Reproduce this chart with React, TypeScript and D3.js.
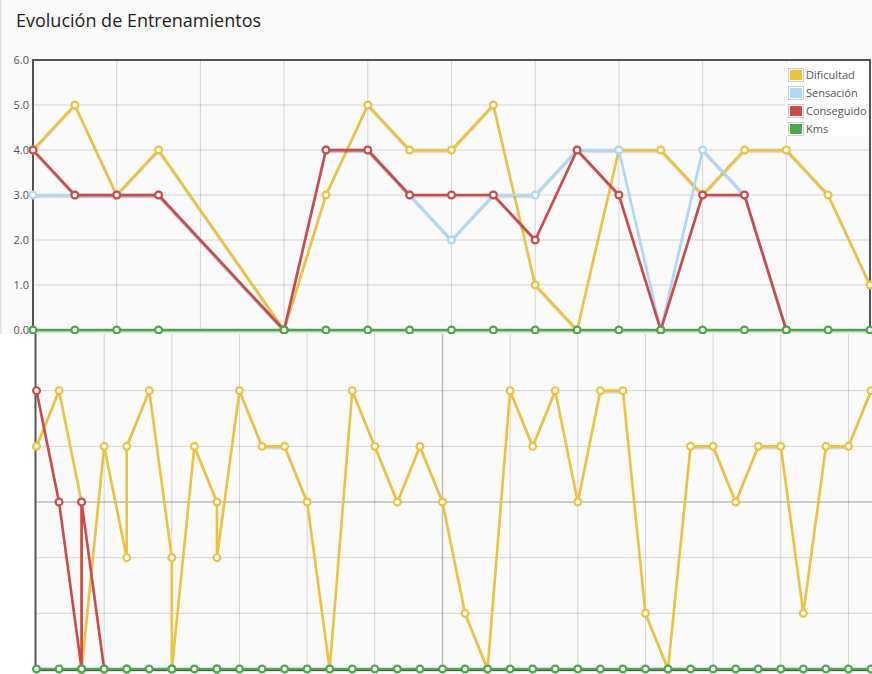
import * as d3 from 'd3';
import React from 'react';

// top chart: one entry per training day (day offset from first)
const topDays = [0, 1, 2, 3, 6, 7, 8, 9, 10, 11, 12, 13, 14, 15, 16, 17, 18, 19, 20];
const topDificultad = [4, 5, 3, 4, 0, 3, 5, 4, 4, 5, 1, 0, 4, 4, 3, 4, 4, 3, 1];
const topSensacion = [3, 3, 3, 3, 0, 4, 4, 3, 2, 3, 3, 4, 4, 0, 4, 3, 0, null, null];
const topConseguido = [4, 3, 3, 3, 0, 4, 4, 3, 3, 3, 2, 4, 3, 0, 3, 3, 0, null, null];
const topKms = [0, 0, 0, 0, 0, 0, 0, 0, 0, 0, 0, 0, 0, 0, 0, 0, 0, 0, 0];

// bottom chart: some days have two entries
const bottomDays = [
  0, 1, 2, 2, 3, 4, 4, 5, 6, 6, 7, 8, 8, 9, 10, 11, 12, 13, 14, 15, 16, 17, 18, 19, 20,
  21, 22, 23, 24, 25, 26, 27, 28, 29, 30, 31, 32, 33, 34, 35, 36, 37,
];
const bottomDificultad = [
  4, 5, 3, 0, 4, 2, 4, 5, 2, 0, 4, 3, 2, 5, 4, 4, 3, 0, 5, 4, 3, 4, 3, 1, 0,
  5, 4, 5, 3, 5, 5, 1, 0, 4, 4, 3, 4, 4, 1, 4, 4, 5,
];
const bottomConseguido = [5, 3, 0, 3, 0];
const bottomKms = bottomDays.map(() => 0);

const legendLabels = ['Dificultad', 'Sensación', 'Conseguido', 'Kms'];
const colors = ['#edc240', '#afd8f8', '#cb4b4b', '#4da74d'];
const yTicks = [0, 1, 2, 3, 4, 5, 6];

type Pt = { x: number; v: number | null };

const toPts = (days: number[], vals: (number | null)[]): Pt[] =>
  vals.map((v, i) => ({ x: days[i], v }));

const FONT = '"Open Sans", "DejaVu Sans", sans-serif';

function Series({
  pts,
  color,
  x,
  y,
}: {
  pts: Pt[];
  color: string;
  x: d3.ScaleLinear<number, number>;
  y: d3.ScaleLinear<number, number>;
}) {
  const line = d3
    .line<Pt>()
    .defined((d) => d.v != null)
    .x((d) => x(d.x))
    .y((d) => y(d.v as number));
  const d = line(pts) || '';
  const shown = pts.filter((p) => p.v != null);
  return (
    <g>
      <path d={d} transform="translate(0,2.5)" fill="none" stroke="rgba(0,0,0,0.1)" strokeWidth={1.5} />
      <path d={d} transform="translate(0,1.5)" fill="none" stroke="rgba(0,0,0,0.15)" strokeWidth={1} />
      <path d={d} fill="none" stroke={color} strokeWidth={2.6} strokeLinejoin="round" />
      {shown.map((p, i) => (
        <circle key={i} cx={x(p.x)} cy={y(p.v as number)} r={3.4} fill="#fff" stroke={color} strokeWidth={2.2} />
      ))}
    </g>
  );
}

export default function App() {
  // top chart
  const xT = d3.scaleLinear().domain([0, 20]).range([33, 870]);
  const yT = d3.scaleLinear().domain([0, 6]).range([330, 60]);
  // bottom chart
  const xB = d3.scaleLinear().domain([0, 37]).range([36.5, 871]);
  const yB = d3.scaleLinear().domain([0, 6]).range([669, 335]);

  const topSeries = [topDificultad, topSensacion, topConseguido, topKms].map((s) => toPts(topDays, s));
  const bottomSeries = [
    toPts(bottomDays, bottomDificultad),
    [] as Pt[],
    toPts(bottomDays, bottomConseguido),
    toPts(bottomDays, bottomKms),
  ];

  const topVGrid = d3.range(2, 20, 2);
  const bottomVGrid = d3.range(3, 38, 3);
  const grid = 'rgba(0,0,0,0.15)';
  const gridDark = 'rgba(0,0,0,0.25)';

  return (
    <svg
      width={872}
      height={674}
      style={{ position: 'absolute', left: 0, top: 0, display: 'block' }}
      fontFamily={FONT}
    >
      <rect x={0} y={0} width={872} height={674} fill="#fafafa" />
      <rect x={0} y={0} width={1.5} height={334} fill="#e2e2e2" />
      <text x={16} y={27} fontSize={18} fill="#222">
        Evolución de Entrenamientos
      </text>

      {/* top chart */}
      <g>
        {yTicks.slice(1, -1).map((t) => (
          <line key={t} x1={xT(0)} x2={xT(20)} y1={yT(t)} y2={yT(t)} stroke={grid} />
        ))}
        {topVGrid.map((t) => (
          <line key={t} x1={xT(t)} x2={xT(t)} y1={yT(6)} y2={yT(0)} stroke={grid} />
        ))}
        {yTicks.map((t) => (
          <text key={t} x={29} y={yT(t)} dy="0.35em" textAnchor="end" fontSize={11} fill="#545454">
            {t.toFixed(1)}
          </text>
        ))}
        <rect x={xT(0)} y={yT(6)} width={xT(20) - xT(0)} height={yT(0) - yT(6)} fill="none" stroke="#545454" strokeWidth={2} />
        {topSeries.map((pts, i) => (
          <Series key={i} pts={pts} color={colors[i]} x={xT} y={yT} />
        ))}
        {/* legend */}
        <g transform="translate(785,63)">
          <rect x={0} y={0} width={81} height={73} fill="#fff" opacity={0.85} />
          {legendLabels.map((l, i) => (
            <g key={l} transform={`translate(3,${5 + i * 18})`}>
              <rect x={0.5} y={0.5} width={15} height={13} fill="#fff" stroke="#ccc" />
              <rect x={2} y={2} width={12} height={10} fill={colors[i]} />
              <text x={18} y={7} dy="0.35em" fontSize={11} fill="#545454">
                {l}
              </text>
            </g>
          ))}
        </g>
      </g>

      {/* bottom chart */}
      <g>
        <rect x={0} y={334} width={872} height={340} fill="#fff" />
        <rect x={xB(0)} y={334} width={872 - xB(0)} height={yB(0) - 334} fill="#fafafa" />
        {yTicks.slice(1, -1).map((t) => (
          <line key={t} x1={xB(0)} x2={872} y1={yB(t)} y2={yB(t)} stroke={t === 3 ? gridDark : grid} strokeWidth={t === 3 ? 1.5 : 1} />
        ))}
        {bottomVGrid.map((t) => (
          <line key={t} x1={xB(t)} x2={xB(t)} y1={334} y2={yB(0)} stroke={t === 18 ? gridDark : grid} strokeWidth={t === 18 ? 1.5 : 1} />
        ))}
        <line x1={xB(0) - 1} x2={xB(0) - 1} y1={334} y2={yB(0) + 1} stroke="#545454" strokeWidth={2} />
        <line x1={xB(0) - 2} x2={872} y1={yB(0) + 1} y2={yB(0) + 1} stroke="#545454" strokeWidth={2} />
        {bottomSeries.map((pts, i) => (
          <Series key={i} pts={pts} color={colors[i]} x={xB} y={yB} />
        ))}
      </g>
    </svg>
  );
}
